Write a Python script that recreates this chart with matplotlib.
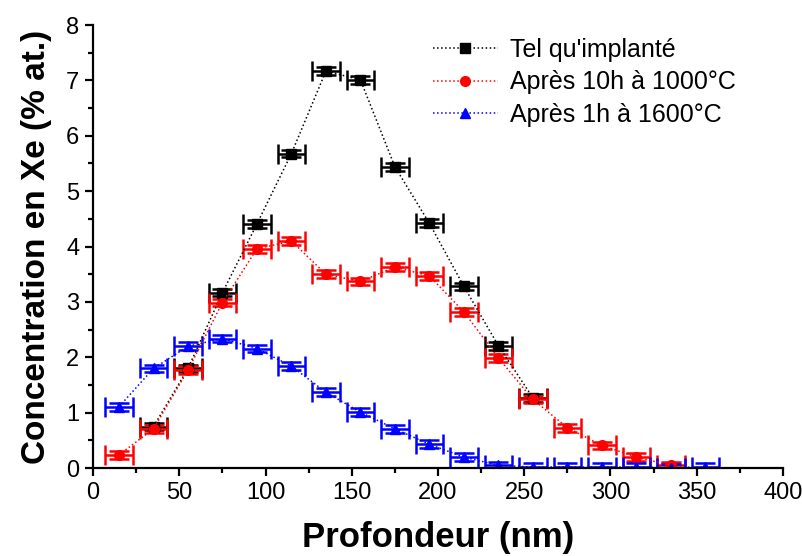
import matplotlib
matplotlib.use("Agg")
import matplotlib.pyplot as plt
from matplotlib.ticker import MultipleLocator

plt.rcParams['font.family'] = ['Liberation Sans', 'DejaVu Sans']

# profondeurs (nm)
depth_tel = [35, 55, 75, 95, 115, 135, 155, 175, 195, 215, 235, 255]
depth_1000 = [15, 35, 55, 75, 95, 115, 135, 155, 175, 195, 215, 235, 255, 275, 295, 315, 335]
depth_1600 = [15, 35, 55, 75, 95, 115, 135, 155, 175, 195, 215, 235, 255, 275, 295, 315, 335, 355]

# concentrations (% at.)
conc_tel = [0.75, 1.80, 3.17, 4.41, 5.68, 7.17, 7.01, 5.44, 4.42, 3.28, 2.21, 1.27]
conc_1000 = [0.24, 0.71, 1.77, 2.99, 3.96, 4.10, 3.50, 3.37, 3.63, 3.47, 2.82, 1.99, 1.24,
             0.73, 0.41, 0.20, 0.05]
conc_1600 = [1.11, 1.80, 2.20, 2.34, 2.16, 1.84, 1.37, 1.01, 0.71, 0.43, 0.20, 0.05, 0.02,
             0.02, 0.02, 0.02, 0.01, 0.02]

xerr = 8
yerr = 0.07

labels = ["Tel qu'implanté", "Après 10h à 1000°C", "Après 1h à 1600°C"]

fig = plt.figure(figsize=(8.03, 5.56), dpi=100)
ax = fig.add_axes([0.116, 0.158, 0.859, 0.797])

series = [(depth_tel, conc_tel, 'black', 's', 6.5),
          (depth_1000, conc_1000, 'red', 'o', 7),
          (depth_1600, conc_1600, 'blue', '^', 7.5)]

for (x, y, col, mk, ms), lab in zip(series, labels):
    ax.errorbar(x, y, xerr=xerr, yerr=yerr, color=col, ecolor=col,
                linestyle=':', linewidth=1.1, marker=mk, markersize=ms,
                elinewidth=1.8, capsize=7, capthick=1.8, label=lab)

ax.set_xlim(0, 400)
ax.set_ylim(0, 8)
ax.xaxis.set_major_locator(MultipleLocator(50))
ax.xaxis.set_minor_locator(MultipleLocator(25))
ax.yaxis.set_major_locator(MultipleLocator(1))
ax.yaxis.set_minor_locator(MultipleLocator(0.5))

ax.spines['top'].set_visible(False)
ax.spines['right'].set_visible(False)
ax.spines['left'].set_linewidth(1.6)
ax.spines['bottom'].set_linewidth(1.6)
ax.tick_params(which='major', direction='out', length=6, width=1.6, labelsize=17, pad=4)
ax.tick_params(which='minor', direction='out', length=3.5, width=1.6)

ax.set_xlabel('Profondeur (nm)', fontsize=25, fontweight='bold', labelpad=12)
ax.set_ylabel('Concentration en Xe (% at.)', fontsize=24, fontweight='bold', labelpad=10)

h, l = ax.get_legend_handles_labels()
h = [hh[0] for hh in h]
ax.legend(h, l, loc='upper right', bbox_to_anchor=(0.95, 1.0), frameon=False,
          fontsize=18, handlelength=2.6, handletextpad=0.5, labelspacing=0.35,
          borderaxespad=0.1)

fig.savefig('out.png', dpi=100)
